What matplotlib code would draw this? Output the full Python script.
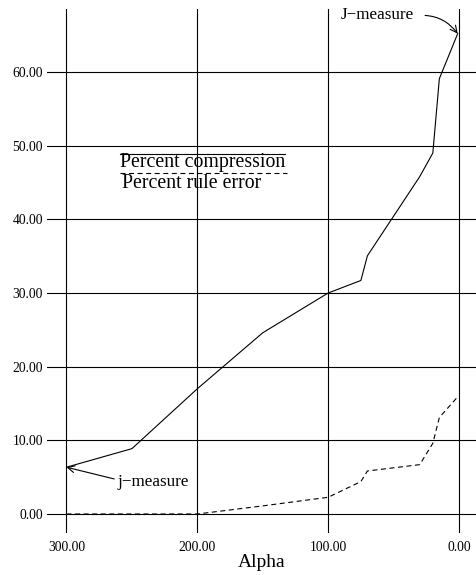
import matplotlib
matplotlib.use("Agg")
import matplotlib.pyplot as plt

plt.rcParams['font.family'] = ['Liberation Serif', 'DejaVu Serif']

# alpha values and the two curves
alpha = [300, 250, 200, 150, 100, 75, 70, 30, 20, 15, 1]
compression = [6.35, 8.87, 17.0, 24.6, 30.0, 31.7, 35.05, 45.8, 49.0, 59.1, 65.2]
rule_error = [0.0, 0.0, 0.0, 1.1, 2.27, 4.4, 5.84, 6.7, 9.6, 13.1, 15.9]

x_ticks = [300, 200, 100, 0]
y_ticks = [0, 10, 20, 30, 40, 50, 60]

fig = plt.figure(figsize=(4.76, 5.75), dpi=100)
ax = fig.add_axes([47/476, 42/575, 429/476, 524/575])

ax.plot(alpha, compression, color='black', lw=0.8)
ax.plot(alpha, rule_error, color='black', lw=0.8, dashes=(4.5, 3.2))

ax.set_xlim(314.9, -13.0)
ax.set_ylim(-2.58, 68.55)
ax.set_xticks(x_ticks)
ax.set_yticks(y_ticks)
ax.set_xticklabels([f"{v:.2f}" for v in x_ticks])
ax.set_yticklabels([f"{v:.2f}" for v in y_ticks], va='center_baseline')
ax.tick_params(axis='both', length=0, labelsize=9.8)
ax.tick_params(axis='x', pad=6)
ax.tick_params(axis='y', pad=3)
for s in ax.spines.values():
    s.set_visible(False)
ax.grid(True, color='black', lw=0.8)
ax.set_axisbelow(True)

ax.set_xlabel("Alpha", fontsize=14, labelpad=0)

# legend: line drawn over each label
ax.plot([259.1, 133.1], [48.83, 48.83], color='black', lw=0.8)
ax.text(259.1, 47.14, "Percent compression", fontsize=14.3, ha='left', va='baseline')
ax.plot([259.1, 131.6], [46.25, 46.25], color='black', lw=0.8, dashes=(4.5, 3.2))
ax.text(257.8, 44.2, "Percent rule error", fontsize=14.3, ha='left', va='baseline')

# annotations at both ends of the compression curve
ax.annotate("J\u2212measure", xy=(alpha[-1], compression[-1]), xytext=(34.4, 67.8),
            fontsize=12.3, ha='right', va='center',
            arrowprops=dict(arrowstyle='->', color='black', lw=0.8,
                            shrinkA=6, shrinkB=0, relpos=(1, 0.4),
                            connectionstyle='arc3,rad=-0.3'))
ax.annotate("j\u2212measure", xy=(alpha[0], compression[0]), xytext=(261.4, 4.34),
            fontsize=12.3, ha='left', va='center',
            arrowprops=dict(arrowstyle='->', color='black', lw=0.8,
                            shrinkA=0, shrinkB=0, relpos=(0, 0.65)))

fig.savefig("out.png", dpi=100)
